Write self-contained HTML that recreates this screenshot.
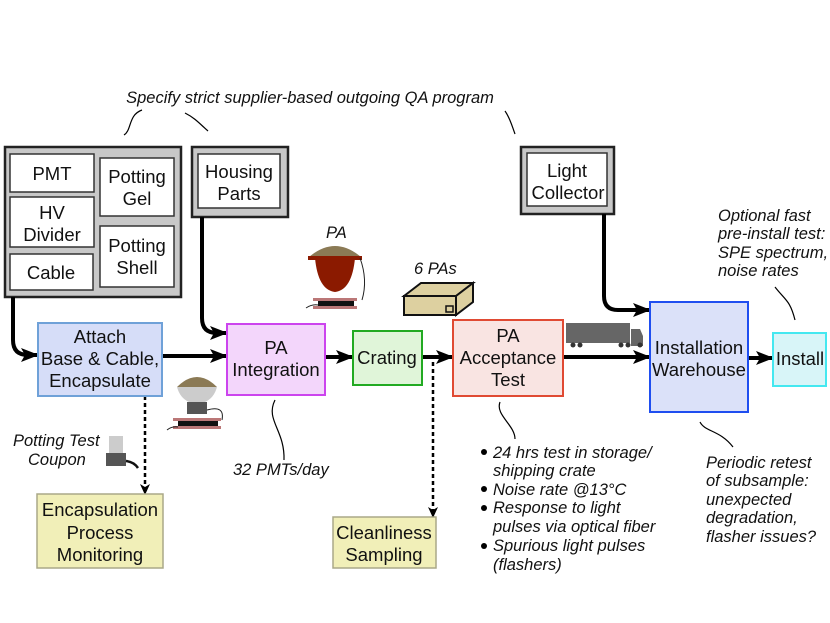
<!DOCTYPE html>
<html><head><meta charset="utf-8"><style>
body{margin:0;background:#fff}
svg{display:block;font-family:"Liberation Sans",sans-serif}
.b{font-size:18.5px;text-anchor:middle;fill:#111}
.i{font-size:16.5px;font-style:italic;fill:#111}
</style></head><body>
<svg width="830" height="623" viewBox="0 0 830 623">
<defs>
<marker id="s" markerWidth="18" markerHeight="16" refX="17" refY="8" orient="auto" markerUnits="userSpaceOnUse"><path d="M0,1 L18,8 L0,15 L4,8z" fill="#000"/></marker>
<marker id="d" markerWidth="11" markerHeight="10" refX="10" refY="5" orient="auto" markerUnits="userSpaceOnUse"><path d="M0,0 L11,5 L0,10 L3,5z" fill="#000"/></marker></defs>
<text class="i" x="310" y="103" text-anchor="middle" font-size="17.5">Specify strict supplier-based outgoing QA program</text>
<g fill="none" stroke="#000" stroke-width="1.2">
<path d="M124,135 C132,130 128,115 142,110"/><path d="M185,113 C195,118 200,124 208,131"/><path d="M505,111 C510,118 512,126 515,134"/>
<path d="M275,400 C265,420 285,430 284,460"/><path d="M500,402 C495,415 515,425 515,439"/>
<path d="M700,422 C705,432 720,430 733,447"/><path d="M775,287 C785,300 790,300 795,320"/>
</g>
<rect x="5" y="147" width="176" height="150" fill="#c8c8c8" stroke="#222" stroke-width="2.5"/>
<g fill="#fff" stroke="#333" stroke-width="1.5">
<rect x="10" y="154" width="84" height="38"/><rect x="10" y="197" width="84" height="50"/><rect x="10" y="254" width="83" height="36"/>
<rect x="100" y="158" width="74" height="58"/><rect x="100" y="226" width="74" height="61"/></g>
<text class="b" x="52" y="180">PMT</text>
<text class="b" x="52" y="219">HV</text><text class="b" x="52" y="241">Divider</text>
<text class="b" x="51" y="279">Cable</text>
<text class="b" x="137" y="183">Potting</text><text class="b" x="137" y="205">Gel</text>
<text class="b" x="137" y="252">Potting</text><text class="b" x="137" y="274">Shell</text>
<rect x="192" y="147" width="96" height="70" fill="#c8c8c8" stroke="#222" stroke-width="2.5"/>
<rect x="198" y="154" width="82" height="54" fill="#fff" stroke="#333" stroke-width="1.5"/>
<text class="b" x="239" y="178">Housing</text><text class="b" x="239" y="200">Parts</text>
<rect x="521" y="147" width="93" height="67" fill="#c8c8c8" stroke="#222" stroke-width="2.5"/>
<rect x="527" y="153" width="80" height="53" fill="#fff" stroke="#333" stroke-width="1.5"/>
<text class="b" x="567" y="177">Light</text><text class="b" x="568" y="199">Collector</text>
<g fill="none" stroke="#000" stroke-width="4" marker-end="url(#s)">
<path d="M13,297 V340 Q13,355 28,355 H38"/>
<path d="M202,217 V318 Q202,333 217,333 H227"/>
<path d="M162,356 H227"/><path d="M325,357 H353"/><path d="M422,357 H453"/>
<path d="M563,357 H650"/>
<path d="M604,214 V296 Q604,310 618,310 H650"/>
<path d="M748,358 H773"/>
</g>
<g fill="none" stroke="#000" stroke-width="2.5" stroke-dasharray="4,3" marker-end="url(#d)">
<path d="M145,396 V494"/><path d="M433,362 V517"/></g>
<rect x="38" y="323" width="124" height="73" fill="#d6ddf8" stroke="#6fa1d8" stroke-width="2"/>
<text class="b" x="100" y="343">Attach</text><text class="b" x="100" y="365">Base &amp; Cable,</text><text class="b" x="100" y="387">Encapsulate</text>
<rect x="227" y="324" width="98" height="71" fill="#f3d6fb" stroke="#cc44ee" stroke-width="2"/>
<text class="b" x="276" y="354">PA</text><text class="b" x="276" y="376">Integration</text>
<rect x="353" y="331" width="69" height="54" fill="#e0f5d9" stroke="#22aa22" stroke-width="2"/>
<text class="b" x="387" y="364">Crating</text>
<rect x="453" y="320" width="110" height="76" fill="#f9e4e2" stroke="#e04a33" stroke-width="2"/>
<text class="b" x="508" y="342">PA</text><text class="b" x="508" y="364">Acceptance</text><text class="b" x="508" y="386">Test</text>
<rect x="650" y="302" width="98" height="110" fill="#dbe1f9" stroke="#1f4ef0" stroke-width="2"/>
<text class="b" x="699" y="354">Installation</text><text class="b" x="699" y="376">Warehouse</text>
<rect x="773" y="333" width="53" height="53" fill="#d8f5f8" stroke="#44e8f0" stroke-width="2"/>
<text class="b" x="800" y="365">Install</text>
<rect x="37" y="494" width="126" height="74" fill="#f1efb8" stroke="#aaa888" stroke-width="1.5"/>
<text class="b" x="100" y="516">Encapsulation</text><text class="b" x="100" y="539">Process</text><text class="b" x="100" y="561">Monitoring</text>
<rect x="333" y="517" width="103" height="51" fill="#f1efb8" stroke="#aaa888" stroke-width="1.5"/>
<text class="b" x="384" y="539">Cleanliness</text><text class="b" x="384" y="561">Sampling</text>
<text class="i" x="13" y="446">Potting Test</text><text class="i" x="28" y="465">Coupon</text>
<text class="i" x="233" y="475">32 PMTs/day</text>
<text class="i" x="326" y="238">PA</text>
<text class="i" x="414" y="274">6 PAs</text>
<g class="i"><text x="493" y="458">24 hrs test in storage/</text><text x="493" y="476">shipping crate</text>
<text x="493" y="495">Noise rate @13°C</text><text x="493" y="513">Response to light</text><text x="493" y="532">pulses via optical fiber</text>
<text x="493" y="551">Spurious light pulses</text><text x="493" y="570">(flashers)</text></g>
<g fill="#000"><circle cx="484" cy="452" r="3"/><circle cx="484" cy="489" r="3"/><circle cx="484" cy="508" r="3"/><circle cx="484" cy="546" r="3"/></g>
<g class="i"><text x="718" y="221">Optional fast</text><text x="718" y="239">pre-install test:</text><text x="718" y="258">SPE spectrum,</text><text x="718" y="276">noise rates</text>
<text x="706" y="468">Periodic retest</text><text x="706" y="486">of subsample:</text><text x="706" y="505">unexpected</text><text x="706" y="523">degradation,</text><text x="706" y="542">flasher issues?</text></g>
<path d="M309,257 Q335,235 361,257Z" fill="#8b7a55"/>
<rect x="308" y="256" width="54" height="4" fill="#8b1a00"/>
<path d="M315,258 Q318,290 335,292 Q352,290 355,258Z" fill="#8b1a00"/>
<rect x="313" y="298" width="44" height="3" fill="#b77"/><rect x="318" y="301" width="36" height="5" fill="#111"/><rect x="313" y="306" width="44" height="3" fill="#b77"/>
<path d="M360,258 Q368,280 362,300 M306,308 Q312,304 318,305" stroke="#222" fill="none"/>
<path d="M177,387 Q197,367 217,387Z" fill="#8b7a55"/>
<path d="M177,387 H217 Q214,398 205,402 H189 Q180,398 177,387Z" fill="#ccc"/>
<rect x="187" y="402" width="20" height="12" fill="#555"/>
<rect x="173" y="418" width="48" height="3" fill="#b77"/><rect x="178" y="421" width="40" height="5" fill="#111"/><rect x="173" y="426" width="48" height="3" fill="#b77"/>
<path d="M207,410 Q225,405 222,420 M167,430 Q172,426 178,427" stroke="#222" fill="none"/>
<rect x="109" y="436" width="14" height="17" fill="#ccc"/><rect x="106" y="453" width="20" height="13" fill="#555"/>
<path d="M126,461 Q134,462 138,468" stroke="#111" stroke-width="2.5" fill="none"/>
<path d="M404,296 L421,283 H473 L456,296Z" fill="#ddd0a0" stroke="#111" stroke-width="2"/>
<path d="M456,296 L473,283 V302 L456,315Z" fill="#ddd0a0" stroke="#111" stroke-width="2"/>
<rect x="404" y="296" width="52" height="19" fill="#ddd0a0" stroke="#111" stroke-width="2"/>
<rect x="446" y="306" width="7" height="6" fill="none" stroke="#111" stroke-width="1.5"/>
<rect x="566" y="323" width="64" height="20" fill="#666"/>
<path d="M631,329 H640 L643,336 V346 H631Z" fill="#666"/>
<g fill="#333"><circle cx="573" cy="345" r="2.5"/><circle cx="580" cy="345" r="2.5"/><circle cx="621" cy="345" r="2.5"/><circle cx="628" cy="345" r="2.5"/><circle cx="640" cy="345" r="2.5"/></g>
</svg>
</body></html>
